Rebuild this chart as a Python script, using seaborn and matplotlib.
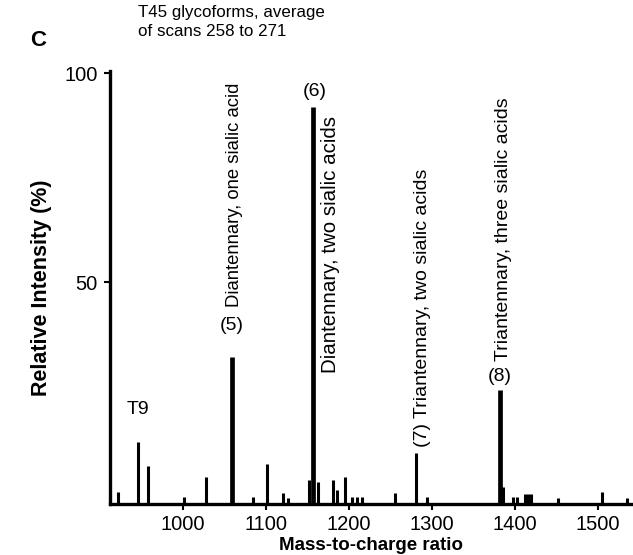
import numpy as np
import pandas as pd
import matplotlib
matplotlib.use("Agg")
import matplotlib.pyplot as plt
import seaborn as sns

# ---- data ----
mz = [921.7, 945.8, 957.8, 1001.0, 1027.7, 1059.0, 1084.0, 1101.0, 1120.5, 1126.5,
      1151.8, 1156.6, 1162.7, 1180.7, 1185.5, 1195.2, 1203.6, 1209.6, 1215.7,
      1255.4, 1280.7, 1294.0, 1382.0, 1385.5, 1397.6, 1402.4, 1412.0, 1415.7,
      1419.3, 1451.8, 1504.8, 1535.0]
intensity = [-0.2, 11.7, 6.0, -1.4, 3.3, 32.1, -1.4, 6.5, -0.5, -1.7,
             2.6, 91.9, 2.2, 2.6, 0.2, 3.3, -1.4, -1.4, -1.4,
             -0.5, 9.1, -1.4, 24.2, 1.0, -1.4, -1.4, -0.7, -0.7,
             -0.7, -1.7, -0.2, -1.7]
x_ticks = [1000, 1100, 1200, 1300, 1400, 1500]
y_ticks = [50, 100]
title_text = "T45 glycoforms, average\nof scans 258 to 271"
panel_letter = "C"
x_label = "Mass-to-charge ratio"
y_label = "Relative Intensity (%)"

df = pd.DataFrame({"mz": mz, "intensity": intensity})

sns.set_theme(style="ticks")
plt.rcParams["font.family"] = ["Liberation Sans", "DejaVu Sans"]
plt.rcParams["text.color"] = "black"
plt.rcParams["axes.labelcolor"] = "black"
plt.rcParams["xtick.color"] = "black"
plt.rcParams["ytick.color"] = "black"

fig = plt.figure(figsize=(6.33, 5.55), dpi=100)
ax = fig.add_axes([110 / 633, 51 / 555, 522 / 633, 433 / 555])

BASE = -3.1
major = df["intensity"] > 20
ax.vlines(df.loc[~major, "mz"], BASE, df.loc[~major, "intensity"], color="black", lw=2.2)
ax.vlines(df.loc[major, "mz"], BASE, df.loc[major, "intensity"], color="black", lw=3.4)

ax.set_xlim(912, 1541)
ax.set_ylim(BASE, 100.5)
ax.set_xticks(x_ticks)
ax.set_yticks(y_ticks)
ax.tick_params(axis="both", labelsize=14.5, length=4, width=1.5)
ax.tick_params(axis="x", pad=4)
ax.tick_params(axis="y", pad=5)
sns.despine(ax=ax)
for s in ("left", "bottom"):
    ax.spines[s].set_linewidth(2.4)
    ax.spines[s].set_color("black")
ax.set_facecolor("white")
ax.grid(False)

ax.set_xlabel(x_label, fontsize=13.5, fontweight="bold", labelpad=2)
ax.set_ylabel(y_label, fontsize=15.5, fontweight="bold", labelpad=9)

fig.text(38 / 633, 1 - 40 / 555, panel_letter, fontsize=16, fontweight="bold", va="center", ha="center")
fig.text(138 / 633, 1 - 5 / 555, title_text, fontsize=12.2, va="top", ha="left", linespacing=1.3)

fs = 14
ax.text(946, 19.5, "T9", fontsize=14, ha="center", va="center")
ax.text(1059, 39.5, "(5)", fontsize=fs, ha="center", va="center")
ax.text(1062, 44, "Diantennary, one sialic acid", rotation=90, fontsize=13.3, ha="center", va="bottom")
ax.text(1178, 28.3, "Diantennary, two sialic acids", rotation=90, fontsize=14.8, ha="center", va="bottom")
ax.text(1159, 95.5, "(6)", fontsize=fs, ha="center", va="center")
ax.text(1289, 10.5, "(7) Triantennary, two sialic acids", rotation=90, fontsize=fs, ha="center", va="bottom")
ax.text(1382, 27.5, "(8)", fontsize=fs, ha="center", va="center")
ax.text(1386, 31, "Triantennary, three sialic acids", rotation=90, fontsize=fs, ha="center", va="bottom")

fig.savefig("out.png", dpi=100, facecolor="white")
